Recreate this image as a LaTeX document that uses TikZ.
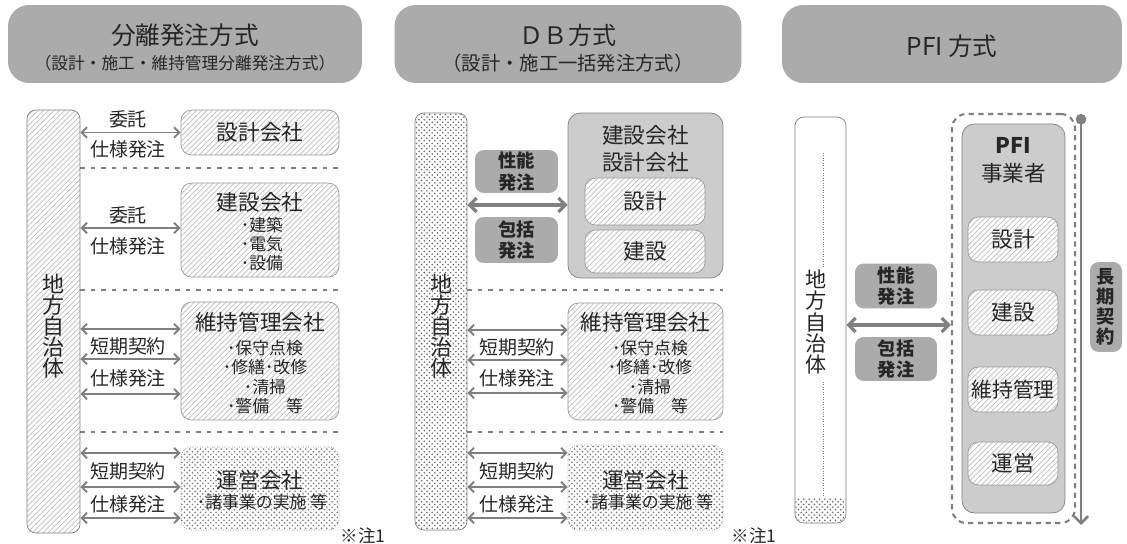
\documentclass[tikz,border=0pt]{standalone}
\usepackage{fontspec}
\setmainfont{Noto Sans CJK JP}
\usetikzlibrary{arrows.meta,patterns,positioning,calc}

\begin{document}
\begin{tikzpicture}[
    x=0.02cm, y=-0.02cm,
    every node/.style={text=black!85, inner sep=0pt},
    titlebox/.style={rectangle, rounded corners=12pt, fill=black!33, minimum height=1.56cm},
    munibar/.style={rectangle, draw=gray, rounded corners=5pt},
    firm/.style={rectangle, draw=gray!80, rounded corners=6pt, preaction={fill=white}, pattern=north east lines, pattern color=gray!50},
    opfirm/.style={rectangle, draw=gray, densely dotted, rounded corners=6pt, pattern=crosshatch dots, pattern color=black!55},
    bigfirm/.style={rectangle, draw=gray, rounded corners=7pt, fill=black!20},
    tag/.style={rectangle, rounded corners=5pt, fill=black!33, font=\bfseries\fontsize{10.4}{12}\selectfont, align=center},
    biarrow/.style={{Straight Barb[length=3pt,width=6pt]}-{Straight Barb[length=3pt,width=6pt]}, draw=gray, line width=1.1pt},
    bigarrow/.style={{Straight Barb[length=4pt,width=8pt]}-{Straight Barb[length=4pt,width=8pt]}, draw=gray, line width=1.8pt},
    sep/.style={draw=gray, dash pattern=on 2.5pt off 3.5pt, line width=1pt},
    lbl/.style={font=\fontsize{10.8}{12}\selectfont},
    firmname/.style={font=\fontsize{12.3}{14}\selectfont},
    items/.style={font=\fontsize{9.6}{11}\selectfont, align=center},
    vtext/.style={font=\fontsize{12.5}{12}\selectfont, align=center},
    note/.style={font=\fontsize{10}{12}\selectfont}
]
\useasboundingbox (0,0) rectangle (1127,544);

% Titles
\node[titlebox, minimum width=7.08cm] (title1) at (185,44) {};
\node[font=\fontsize{14}{16}\selectfont] at (185,35) {分離発注方式};
\node[font=\fontsize{9.5}{11}\selectfont] at (185,63) {（設計・施工・維持管理分離発注方式）};
\node[titlebox, minimum width=6.94cm] (title2) at (568,44) {};
\node[font=\fontsize{13.7}{16}\selectfont] at (568,35) {ＤＢ方式};
\node[font=\fontsize{11}{13}\selectfont] at (568,63) {（設計・施工一括発注方式）};
\node[titlebox, minimum width=6.8cm] (title3) at (952,44) {};
\node[font=\fontsize{14}{16}\selectfont] at (952,46) {PFI 方式};

% Panel 1 - separate ordering
\node[munibar, pattern=north east lines, pattern color=gray!50, minimum width=1.06cm, minimum height=8.46cm] (muni1) at (53.5,321.5) {};
\node[vtext] at (53.5,326) {地\\方\\自\\治\\体};

\node[firm, minimum width=3.16cm, minimum height=0.9cm] (sekkei1) at (260,132.5) {};
\node[firmname] at (260,132.5) {設計会社};
\node[firm, minimum width=3.16cm, minimum height=1.88cm] (kensetsu1) at (260,230) {};
\node[firmname] at (260,202) {建設会社};
\node[items] at (262,244) {･建築\\･電気\\･設備};
\node[firm, minimum width=3.16cm, minimum height=2.36cm] (iji1) at (260,361) {};
\node[firmname] at (260,322) {維持管理会社};
\node[items] at (265,377) {･保守点検\\･修繕･改修\\･清掃\\･警備　等};
\node[opfirm, minimum width=3.16cm, minimum height=1.66cm] (unei1) at (260,488.5) {};
\node[firmname] at (260,480) {運営会社};
\node[items] at (262,502) {･諸事業の実施 等};
\node[note] at (363,536) {※注1};

\draw[biarrow] (muni1.east |- sekkei1.west) -- (sekkei1.west);
\node[lbl] at (128,119) {委託};
\node[lbl] at (128,149) {仕様発注};
\draw[sep] (muni1.east |- 0,168) -- (sekkei1.east |- 0,168);
\draw[biarrow] (muni1.east |- 0,228) -- (kensetsu1.west |- 0,228);
\node[lbl] at (128,215) {委託};
\node[lbl] at (128,246) {仕様発注};
\draw[sep] (muni1.east |- 0,290) -- (sekkei1.east |- 0,290);
\draw[biarrow] (muni1.east |- 0,329) -- (iji1.west |- 0,329);
\draw[biarrow] (muni1.east |- 0,359) -- (iji1.west |- 0,359);
\draw[biarrow] (muni1.east |- 0,394) -- (iji1.west |- 0,394);
\node[lbl] at (128,346) {短期契約};
\node[lbl] at (128,378) {仕様発注};
\draw[sep] (muni1.east |- 0,432) -- (sekkei1.east |- 0,432);
\draw[biarrow] (muni1.east |- 0,453) -- (unei1.west |- 0,453);
\draw[biarrow] (muni1.east |- 0,487) -- (unei1.west |- 0,487);
\draw[biarrow] (muni1.east |- 0,518) -- (unei1.west |- 0,518);
\node[lbl] at (128,471) {短期契約};
\node[lbl] at (128,504) {仕様発注};

% Panel 2 - DB
\node[munibar, pattern=crosshatch dots, pattern color=black!60, minimum width=1.04cm, minimum height=8.34cm] (muni2) at (441,321.5) {};
\node[vtext] at (441,326) {地\\方\\自\\治\\体};

\node[bigfirm, minimum width=3.1cm, minimum height=3.3cm] (db2) at (645.5,195.5) {};
\node[firmname] at (645.5,135) {建設会社};
\node[firmname] at (645.5,162) {設計会社};
\node[firm, minimum width=2.4cm, minimum height=0.94cm] (sekkei2) at (645,201.5) {};
\node[firmname] at (645,201.5) {設計};
\node[firm, minimum width=2.4cm, minimum height=0.86cm] (kensetsu2) at (645,251.5) {};
\node[firmname] at (645,251.5) {建設};
\draw[bigarrow] (muni2.east |- 0,205) -- (db2.west |- 0,205);
\node[tag, minimum width=1.66cm, minimum height=0.86cm] (seino2) at (516.5,171.5) {性能\\発注};
\node[tag, minimum width=1.66cm, minimum height=0.92cm] (hokatsu2) at (516.5,240) {包括\\発注};

\draw[sep] (muni2.east |- 0,290) -- (db2.east |- 0,290);
\node[firm, minimum width=3.1cm, minimum height=2.34cm] (iji2) at (645.5,361.5) {};
\node[firmname] at (645.5,322) {維持管理会社};
\node[items] at (650,377) {･保守点検\\･修繕･改修\\･清掃\\･警備　等};
\draw[biarrow] (muni2.east |- 0,330) -- (iji2.west |- 0,330);
\draw[biarrow] (muni2.east |- 0,360) -- (iji2.west |- 0,360);
\draw[biarrow] (muni2.east |- 0,393) -- (iji2.west |- 0,393);
\node[lbl] at (517,347) {短期契約};
\node[lbl] at (517,378) {仕様発注};
\draw[sep] (muni2.east |- 0,432) -- (db2.east |- 0,432);
\node[opfirm, minimum width=3.1cm, minimum height=1.7cm] (unei2) at (645.5,487.5) {};
\node[firmname] at (645.5,480) {運営会社};
\node[items] at (648,502) {･諸事業の実施 等};
\draw[biarrow] (muni2.east |- 0,453) -- (unei2.west |- 0,453);
\draw[biarrow] (muni2.east |- 0,487) -- (unei2.west |- 0,487);
\draw[biarrow] (muni2.east |- 0,518) -- (unei2.west |- 0,518);
\node[lbl] at (517,471) {短期契約};
\node[lbl] at (517,504) {仕様発注};
\node[note] at (754,536) {※注1};

% Panel 3 - PFI
\node[munibar, fill=white, minimum width=1.02cm, minimum height=8.12cm] (muni3) at (820.5,320) {};
\path[pattern=crosshatch dots, pattern color=black!60, rounded corners=5pt] (795.5,498) -- (795.5,522.5) -- (845.5,522.5) -- (845.5,498);
\draw[gray, densely dotted] (823,153) -- (823,268);
\draw[gray, densely dotted] (823,382) -- (823,497);
\node[vtext, font=\fontsize{12}{12}\selectfont] at (816,322) {地\\方\\自\\治\\体};

\node[rectangle, draw=gray, line width=1.2pt, dash pattern=on 3pt off 2.5pt, rounded corners=8pt, minimum width=2.46cm, minimum height=8.18cm] (spc3) at (1013.5,318.5) {};
\node[bigfirm, minimum width=2.06cm, minimum height=7.78cm] (pfi3) at (1013.5,318.5) {};
\node[firmname, font=\bfseries\fontsize{12.3}{14}\selectfont] at (1013.5,145) {PFI};
\node[firmname] at (1013.5,173) {事業者};
\node[firm, minimum width=1.8cm, minimum height=0.9cm] (sekkei3) at (1013,239.5) {};
\node[firmname] at (1013,239.5) {設計};
\node[firm, minimum width=1.8cm, minimum height=0.9cm] (kensetsu3) at (1013,312.5) {};
\node[firmname] at (1013,312.5) {建設};
\node[firm, minimum width=1.8cm, minimum height=0.9cm] (iji3) at (1013,389.5) {};
\node[firmname, font=\fontsize{11.8}{14}\selectfont] at (1013,389.5) {維持管理};
\node[firm, minimum width=1.8cm, minimum height=0.86cm] (unei3) at (1013,463.5) {};
\node[firmname] at (1013,463.5) {運営};

\draw[bigarrow] (muni3.east |- 0,325) -- (spc3.west |- 0,325);
\node[tag, minimum width=1.64cm, minimum height=0.9cm] (seino3) at (896,286) {性能\\発注};
\node[tag, minimum width=1.64cm, minimum height=0.88cm] (hokatsu3) at (896,359) {包括\\発注};

% Long-term contract
\coordinate (ltop) at (1081,114);
\coordinate (lbot) at (1081,525);
\draw[{Circle[length=6pt]}-{Straight Barb[length=4pt,width=8pt]}, draw=gray, fill=gray, line width=1.5pt] (ltop) -- (lbot);
\node[tag, minimum width=0.64cm, minimum height=1.8cm, font=\bfseries\fontsize{10.4}{11.5}\selectfont] (choki3) at (1106,307) {長\\期\\契\\約};

\end{tikzpicture}
\end{document}
